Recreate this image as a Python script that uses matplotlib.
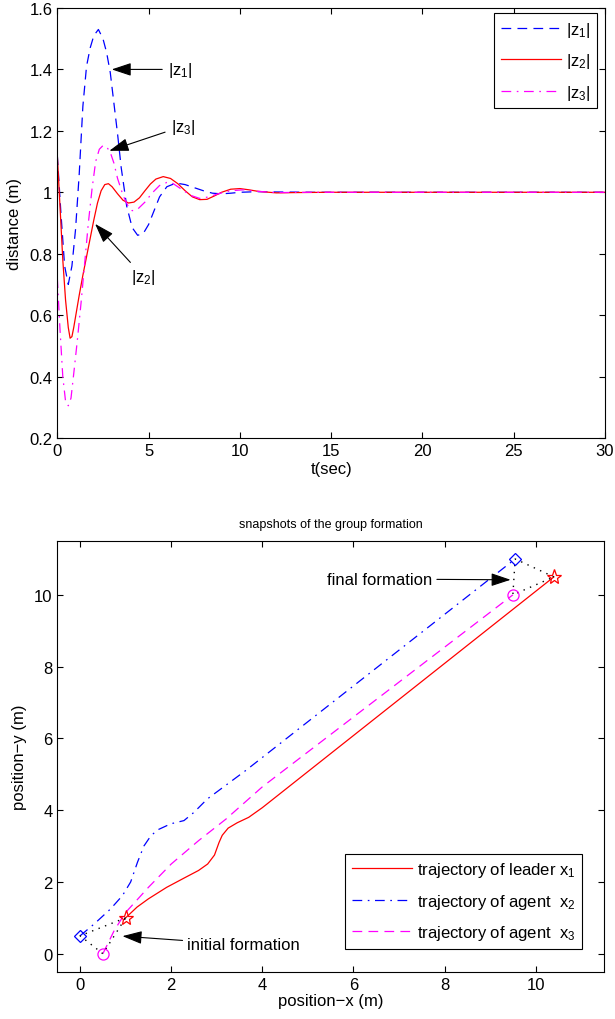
import numpy as np
import matplotlib
matplotlib.use('Agg')
import matplotlib.pyplot as plt
from matplotlib.ticker import FormatStrFormatter

plt.rcParams['font.family'] = ['Liberation Sans', 'DejaVu Sans']
plt.rcParams['mathtext.default'] = 'regular'
plt.rcParams['font.size'] = 12
plt.rcParams['lines.scale_dashes'] = False
plt.rcParams['axes.unicode_minus'] = True

# ---- top panel: inter-agent distances ----
t_z1 = [0, 0.2, 0.4, 0.6, 0.8, 1.0, 1.2, 1.4, 1.6, 1.8, 2.0, 2.25, 2.5, 2.7, 2.9, 3.1, 3.3, 3.5,
        3.8, 4.1, 4.4, 4.7, 5.0, 5.3, 5.6, 6.0, 6.5, 7.0, 7.5, 8.0, 8.5, 9.0, 9.5, 10, 11, 12, 14, 30]
z1 = [1.12, 0.93, 0.76, 0.70, 0.76, 0.88, 1.06, 1.28, 1.41, 1.47, 1.51, 1.53, 1.50, 1.455, 1.39,
      1.29, 1.19, 1.08, 0.955, 0.885, 0.86, 0.865, 0.895, 0.94, 0.985, 1.018, 1.03, 1.025, 1.015,
      1.005, 0.997, 0.995, 0.997, 1.0, 1.002, 1.001, 1.0, 1.0]

t_z2 = [0, 0.15, 0.3, 0.45, 0.6, 0.7, 0.8, 0.9, 1.0, 1.2, 1.4, 1.6, 1.8, 2.0, 2.2, 2.4, 2.6, 2.8,
        3.0, 3.3, 3.6, 3.9, 4.2, 4.5, 4.8, 5.1, 5.4, 5.8, 6.2, 6.6, 7.0, 7.4, 7.8, 8.2, 8.6, 9.0,
        9.5, 10.0, 10.5, 11, 12, 13, 15, 30]
z2 = [1.12, 0.95, 0.78, 0.65, 0.56, 0.525, 0.53, 0.56, 0.595, 0.665, 0.73, 0.79, 0.85, 0.91, 0.965,
      1.005, 1.025, 1.028, 1.018, 0.995, 0.974, 0.965, 0.968, 0.982, 1.005, 1.027, 1.043, 1.051,
      1.045, 1.028, 1.005, 0.985, 0.976, 0.977, 0.988, 1.0, 1.01, 1.012, 1.008, 1.003, 0.998,
      0.999, 1.0, 1.0]

t_z3 = [0, 0.15, 0.3, 0.45, 0.6, 0.75, 0.9, 1.1, 1.3, 1.5, 1.7, 1.9, 2.1, 2.3, 2.5, 2.7, 2.9, 3.1,
        3.3, 3.6, 3.9, 4.1, 4.4, 4.8, 5.2, 5.6, 6.0, 6.3, 6.8, 7.3, 7.8, 8.3, 8.8, 9.5, 10.2, 11,
        12, 14, 30]
z3 = [0.72, 0.55, 0.40, 0.32, 0.305, 0.33, 0.41, 0.52, 0.64, 0.77, 0.90, 1.01, 1.10, 1.14, 1.152,
      1.148, 1.13, 1.095, 1.045, 0.99, 0.952, 0.94, 0.945, 0.968, 0.998, 1.022, 1.032, 1.03, 1.01,
      0.99, 0.98, 0.985, 0.995, 1.005, 1.008, 1.003, 0.999, 1.0, 1.0]

# ---- bottom panel: trajectories ----
x1 = [1.0, 1.25, 1.5, 1.9, 2.3, 2.6, 2.8, 2.95, 3.05, 3.12, 3.25, 3.45, 3.7, 4.0, 10.4]
y1 = [1.0, 1.3, 1.53, 1.85, 2.12, 2.32, 2.5, 2.75, 3.1, 3.3, 3.5, 3.65, 3.8, 4.07, 10.5]

x2 = [0.0, 0.31, 0.67, 0.93, 1.11, 1.26, 1.4, 1.55, 1.7, 1.99, 2.28, 2.5, 2.79, 3.63, 9.55]
y2 = [0.5, 0.83, 1.25, 1.62, 2.0, 2.55, 3.0, 3.28, 3.45, 3.62, 3.71, 3.94, 4.31, 5.10, 11.0]

x3 = [0.5, 0.75, 1.0, 1.5, 2.0, 2.6, 3.2, 4.0, 9.5]
y3 = [0.0, 0.65, 1.15, 1.85, 2.5, 3.15, 3.75, 4.65, 10.0]


fig = plt.figure(figsize=(6.15, 10.2), dpi=100)

dash = (7, 4.5)
dashdot = (7, 4, 1.2, 4)
mag = '#ff00ff'

ax1 = fig.add_axes([0.0932, 0.5696, 0.8905, 0.4216])
ax1.plot(t_z1, z1, color='b', lw=0.9, dashes=dash, label='|z$_1$|')
ax1.plot(t_z2, z2, color='r', lw=0.9, ls='-', label='|z$_2$|')
ax1.plot(t_z3, z3, color=mag, lw=0.9, dashes=dashdot, label='|z$_3$|')
ax1.set_xlim(0, 30)
ax1.set_ylim(0.2, 1.6)
ax1.set_xticks(np.arange(0, 31, 5))
ax1.set_yticks(np.arange(0.2, 1.61, 0.2))
ax1.yaxis.set_major_formatter(FormatStrFormatter('%g'))
ax1.set_xlabel('t(sec)', labelpad=2)
ax1.set_ylabel('distance (m)', labelpad=5)
ax1.tick_params(direction='in', top=True, right=True, length=4, labelsize=12)

arr = dict(arrowstyle='-|>,head_length=0.6,head_width=0.2', color='k', lw=0.8,
           mutation_scale=20, shrinkA=2, shrinkB=0)
ax1.annotate('|z$_1$|', xy=(2.98, 1.40), xytext=(6.05, 1.40), va='center', ha='left',
             fontsize=12, arrowprops=arr)
ax1.annotate('|z$_3$|', xy=(2.85, 1.135), xytext=(6.2, 1.215), va='center', ha='left',
             fontsize=12, arrowprops=arr)
ax1.annotate('|z$_2$|', xy=(2.07, 0.897), xytext=(4.05, 0.725), va='center', ha='left',
             fontsize=12, arrowprops=arr)

leg1 = ax1.legend(loc='upper right', bbox_to_anchor=(0.986, 0.988), borderaxespad=0,
                  fancybox=False, edgecolor='k', framealpha=1, fontsize=12,
                  handlelength=3.6, handletextpad=0.3, labelspacing=0.75,
                  borderpad=0.4)
leg1.get_frame().set_linewidth(0.8)

ax2 = fig.add_axes([0.0932, 0.0464, 0.8889, 0.4222])
ax2.plot(x1, y1, color='r', lw=0.9, ls='-', label='trajectory of leader x$_1$')
ax2.plot(x2, y2, color='b', lw=0.9, dashes=dashdot, label='trajectory of agent  x$_2$')
ax2.plot(x3, y3, color=mag, lw=0.9, dashes=dash, label='trajectory of agent  x$_3$')

# formation snapshots (start and end)
for i in (0, -1):
    fx = [x1[i], x2[i], x3[i], x1[i]]
    fy = [y1[i], y2[i], y3[i], y1[i]]
    ax2.plot(fx, fy, color='k', lw=1.0, ls=(0, (1, 4)))
    ax2.plot(x1[i], y1[i], marker='*', ms=11, mfc='none', mec='r', mew=0.9)
    ax2.plot(x2[i], y2[i], marker='D', ms=6.5, mfc='none', mec='b', mew=0.9)
    ax2.plot(x3[i], y3[i], marker='o', ms=8, mfc='none', mec=mag, mew=0.9)

ax2.set_xlim(-0.5, 11.5)
ax2.set_ylim(-0.5, 11.5)
ax2.set_xticks(np.arange(0, 11, 2))
ax2.set_yticks(np.arange(0, 11, 2))
ax2.set_xlabel('position\u2212x (m)', labelpad=1)
ax2.set_ylabel('position\u2212y (m)', labelpad=5)
ax2.set_title('snapshots of the group formation', fontsize=9, pad=10)
ax2.tick_params(direction='in', top=True, right=True, length=4, labelsize=12)

arr2 = dict(arrowstyle='-|>,head_length=0.6,head_width=0.2', color='k', lw=0.8,
            mutation_scale=20, shrinkA=1, shrinkB=0)
ax2.annotate('initial formation', xy=(0.93, 0.49), xytext=(2.34, 0.25), va='center',
             ha='left', fontsize=12, arrowprops=arr2)
ax2.annotate('final formation', xy=(9.45, 10.42), xytext=(5.43, 10.44), va='center',
             ha='left', fontsize=12, arrowprops=arr2)

leg2 = ax2.legend(loc='lower right', bbox_to_anchor=(0.96, 0.053), borderaxespad=0,
                  fancybox=False, edgecolor='k', framealpha=1, fontsize=12,
                  handlelength=3.6, handletextpad=0.3, labelspacing=0.75,
                  borderpad=0.4)
leg2.get_frame().set_linewidth(0.8)

fig.savefig('out.png', dpi=100)
